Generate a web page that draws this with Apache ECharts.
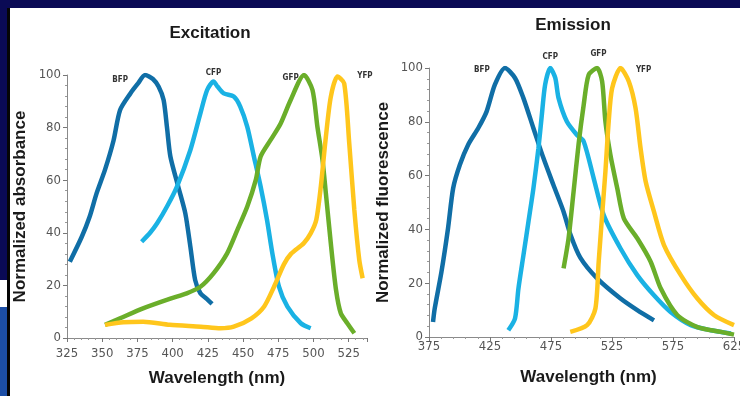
<!DOCTYPE html>
<html><head><meta charset="utf-8">
<script src="https://cdn.jsdelivr.net/npm/echarts@6/dist/echarts.min.js"></script>
<style>html,body{margin:0;padding:0;background:#fff}#c{width:740px;height:396px}</style>
</head><body><div id="c"></div>
<script>
// ---- Excitation (left panel) ----
const exBfpNm  = [327,335.5,341,346,352,358,362.7,370,375,380.5,386,390,393.6,396,398.4,404,409,412.6,416,419.7,424,428];
const exBfpVal = [29,38.5,46,55,64,75,86.7,93,96.5,100,98.5,95.6,90.5,80,69,57.5,47.4,34.7,22,17,15,13];
const exCfpNm  = [378,384,389,396,403,412.6,419.7,424.5,429,432,436.3,443.4,448,453,457.7,462.5,467,470.8,475.5,481.5,491,498];
const exCfpVal = [36.6,40,43.6,50,57.5,71.5,85.4,94.3,97.5,95.5,93,91.8,88,80.3,69,57.5,44.9,32.2,19.5,11.9,5.6,3.7];
const exGfpNm  = [352,362.7,379,398.4,410,419.7,429,438.7,445.9,453,459,462.5,469.6,476.7,483.8,493.3,499.3,502.8,506.4,508.8,512.3,516,519.4,524,529];
const exGfpVal = [5,7.5,11.3,15,17,19.5,24.6,32.2,41,50,60,69,75.3,81.6,90.5,100,94.3,80.3,67.7,55,36,18.3,9.4,5.6,1.8];
const exYfpNm  = [352,365,379,398,420,434,443.4,456,465,472,479,484,493,498,502,505.2,508.8,512.3,517,521.8,525.4,529,532.5,534.9];
const exYfpVal = [5,6,6.2,5,4.3,3.7,4.3,7.5,12,19.5,28,32,36,39.8,45,57.5,76.5,91.7,99.4,96.8,74,48.7,29.7,22.7];

// ---- Emission (right panel) ----
const emBfpNm  = [378.3,379.7,385.2,390.6,394.8,400.3,407,415.3,422.2,429,437.3,445.5,452.4,460.6,468.8,477,485.3,491,499,512.8,532,545.7,559.4];
const emBfpVal = [5.6,10.6,24.2,40.4,55.3,64,71.4,77.6,83.8,93.8,100,96.3,88.8,77.6,66.5,56.5,46.6,38,29.5,21.8,14.3,10,6.2];
const emCfpNm  = [440,445.5,448.3,452.4,456.5,460.6,464.7,467.5,470.2,474.4,478.5,481.2,488,496.3,501.8,510,518.2,532,545.7,559.4,573,589.6,606,622.5];
const emCfpVal = [2.5,6.9,18,30.4,42.8,55.3,70.2,82.6,93.8,100,96.3,88.8,80.1,75.1,72.7,59,45.3,32.9,23,15.5,9.3,4.4,2.5,1.3];
const emGfpNm  = [485.3,489.4,493.5,497.7,501.8,505.9,512.8,516.9,519.6,523.7,529.3,534.7,545.7,556.7,565,578.6,595,614.3,625];
const emGfpVal = [25.5,36.7,54,72,86.3,97.5,100,95,80.1,67.7,55.3,44.1,36.7,28,18,8.1,3.7,1.9,0.9];
const emYfpNm  = [490.8,504.6,511.4,514.1,516.9,519.6,522.3,525.1,532,538.8,544.3,548.4,552.6,559.4,567.6,581.4,595,608.8,625];
const emYfpVal = [1.9,4.4,10.6,28,45.3,61.5,80.1,92.5,100,95,85.1,70.2,57.8,46.6,34.2,23,14.3,8.1,4.4];

const yTicks = [0,20,40,60,80,100];
const proteinNames = ['BFP','CFP','GFP','YFP'];
// label anchor points (data coords) [nm, value, extra px up]
const exLabelAt = [[362.7,98,0],[429,100,2],[483.8,98.9,0],[536.5,99.6,0]];
const emLabelAt = [[418.3,99.4,0],[474.4,100,11],[513.9,100,14],[550.9,99.4,0]];

const colors = ['#106ea6','#1ab2e4','#6aae2a','#ffc61c'];
const pair = (xs, ys) => xs.map((x, i) => [x, ys[i]]);

const exData = [pair(exBfpNm,exBfpVal),pair(exCfpNm,exCfpVal),pair(exGfpNm,exGfpVal),pair(exYfpNm,exYfpVal)];
const emData = [pair(emBfpNm,emBfpVal),pair(emCfpNm,emCfpVal),pair(emGfpNm,emGfpVal),pair(emYfpNm,emYfpVal)];

const tickFont = "'DejaVu Sans Condensed','Liberation Sans Narrow','Liberation Sans',sans-serif";
const boldFont = "'Liberation Sans',Arial,sans-serif";

function xAxis(idx, min, max, interval, margin, namePad) {
  return {
    type:'value', gridIndex:idx, min, max, interval,
    name:'Wavelength (nm)', nameLocation:'middle', nameGap:32,
    nameTextStyle:{fontFamily:boldFont, fontWeight:'bold', fontSize:17, color:'#1a1a1a', padding:namePad},
    axisLine:{lineStyle:{color:'#8a8a8a', width:1}},
    axisTick:{show:true, length:4, lineStyle:{color:'#777'}},
    minorTick:{show:true, splitNumber:5, length:2, lineStyle:{color:'#999'}},
    axisLabel:{fontFamily:tickFont, fontSize:13, color:'#555', margin, showMaxLabel: idx===1},
    splitLine:{show:false}, minorSplitLine:{show:false}
  };
}
function yAxis(idx, name, gap) {
  return {
    type:'value', gridIndex:idx, min:0, max:100, interval:20,
    name, nameLocation:'middle', nameGap:gap, nameRotate:90,
    nameTextStyle:{fontFamily:boldFont, fontWeight:'bold', fontSize:17, color:'#1a1a1a'},
    axisLine:{show:true, lineStyle:{color:'#8a8a8a', width:1}},
    axisTick:{show:true, length:4, lineStyle:{color:'#777'}},
    minorTick:{show:true, splitNumber:5, length:2, lineStyle:{color:'#999'}},
    axisLabel:{fontFamily:tickFont, fontSize:13, color:'#555', margin:6,
      formatter: v => yTicks.includes(v) ? String(v) : ''},
    splitLine:{show:false}
  };
}
function seriesFor(dataSets, labelAt, axisIdx) {
  return dataSets.map((d, i) => ({
    type:'line', xAxisIndex:axisIdx, yAxisIndex:axisIdx, data:d,
    showSymbol:false, smooth:0.25, animation:false, z: 2 + i,
    lineStyle:{color:colors[i], width:4.5},
    itemStyle:{color:colors[i]},
    markPoint:{
      symbol:'circle', symbolSize:1, animation:false,
      itemStyle:{color:'rgba(0,0,0,0)'},
      label:{show:true, position:'inside', formatter:'{b}', color:'#333',
             fontFamily:tickFont, fontWeight:'bold', fontSize:8,
             offset:[0, -labelAt[i][2]]},
      data:[{name:proteinNames[i], coord:[labelAt[i][0], labelAt[i][1]]}]
    }
  }));
}

const chart = echarts.init(document.getElementById('c'), null, {renderer:'canvas'});
chart.setOption({
  backgroundColor:'#ffffff',
  animation:false,
  grid:[
    {left:67, top:75, width:300, height:263, outerBoundsMode:'none', containLabel:false},
    {left:429, top:68, width:305, height:269, outerBoundsMode:'none', containLabel:false}
  ],
  xAxis:[xAxis(0, 325, 538, 25, 9, [0,0,0,0]), xAxis(1, 375, 625, 50, 3, [0,0,0,14])],
  yAxis:[yAxis(0, 'Normalized absorbance', 38), yAxis(1, 'Normalized fluorescence', 37)],
  series:[...seriesFor(exData, exLabelAt, 0), ...seriesFor(emData, emLabelAt, 1)],
  graphic:[
    {type:'rect', shape:{x:0,y:0,width:740,height:8}, style:{fill:'#0a0a55'}, z:100},
    {type:'rect', shape:{x:0,y:0,width:8,height:280}, style:{fill:'#0a0a55'}, z:100},
    {type:'rect', shape:{x:0,y:307,width:8,height:89}, style:{fill:'#1c4ea6'}, z:100},
    {type:'rect', shape:{x:7,y:8,width:3,height:388}, style:{fill:'#050505'}, z:100},
    {type:'text', x:210, y:33, style:{text:'Excitation', fontFamily:boldFont, fontWeight:'bold', fontSize:17, fill:'#1a1a1a', align:'center', verticalAlign:'middle'}, z:100},
    {type:'text', x:573, y:25, style:{text:'Emission', fontFamily:boldFont, fontWeight:'bold', fontSize:17, fill:'#1a1a1a', align:'center', verticalAlign:'middle'}, z:100}
  ]
});
</script></body></html>
